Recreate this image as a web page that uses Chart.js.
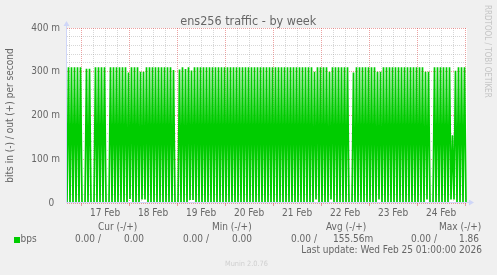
<!DOCTYPE html>
<html>
<head>
<meta charset="utf-8">
<title>ens256 traffic - by week</title>
<script src="https://cdn.jsdelivr.net/npm/chart.js@4.4.1/dist/chart.umd.min.js"></script>
<style>
  html, body { margin: 0; padding: 0; background: #f0f0f0; }
  #wrap { position: relative; width: 497px; height: 275px; overflow: hidden; }
  #myChart { position: absolute; left: 0; top: 0; }
  .txt {
    position: absolute;
    white-space: pre;
    font-family: 'DejaVu Sans Condensed', 'DejaVu Sans', sans-serif;
    font-stretch: condensed;
    color: #666;
  }
  .swatch { position: absolute; left: 14px; top: 237px; width: 6px; height: 6px; background: #00cc00; }
</style>
</head>
<body>
<div id="wrap">
  <canvas id="myChart" width="497" height="275"></canvas>
</div>
<script>
// Out traffic (bits/s, in milli units) - every burst top, left to right
const outPeaks = [
  310, 310, 310, 310, 310, 0, 307, 307, 0, 310,
  310, 310, 310, 0, 310, 310, 310, 310, 310, 310,
  298, 310, 310, 310, 300, 300, 310, 310, 310, 310,
  310, 310, 310, 310, 310, 304, 0, 305, 310, 306,
  310, 303, 310, 310, 310, 310, 310, 310, 310, 310,
  310, 310, 310, 310, 310, 310, 310, 310, 310, 310,
  310, 310, 310, 310, 310, 310, 310, 310, 310, 310,
  310, 310, 310, 310, 310, 310, 310, 310, 310, 310,
  310, 310, 300, 310, 310, 310, 310, 300, 310, 310,
  310, 310, 310, 310, 0, 298, 310, 310, 310, 310,
  310, 310, 310, 300, 300, 310, 310, 310, 310, 310,
  310, 310, 310, 310, 310, 310, 310, 310, 310, 300,
  300, 0, 310, 310, 310, 310, 310, 310, 155, 302,
  310, 310, 310
];

// Low points between the bursts (one more than the tops)
const outTroughs = [
  0, 0, 0, 0, 0, 0, 0, 0, 0, 0,
  0, 0, 0, 0, 0, 0, 0, 0, 0, 0,
  0, 9, 0, 0, 0, 8, 8, 0, 0, 0,
  0, 0, 0, 0, 0, 0, 0, 0, 0, 0,
  0, 7, 7, 0, 0, 0, 0, 0, 0, 0,
  0, 0, 0, 0, 0, 0, 0, 0, 0, 0,
  0, 0, 0, 0, 0, 0, 0, 0, 0, 0,
  0, 0, 0, 0, 0, 0, 0, 0, 0, 0,
  0, 0, 0, 8, 0, 0, 0, 0, 8, 0,
  0, 0, 0, 0, 0, 0, 0, 0, 0, 0,
  0, 0, 0, 0, 8, 0, 0, 0, 0, 0,
  0, 0, 0, 0, 0, 0, 0, 0, 0, 0,
  8, 0, 0, 0, 0, 0, 0, 0, 8, 8,
  0, 0, 0, 0
];

const sampleHours = 0.75;      // aika näytteiden välillä
const rangeHours = 200;        // Feb 16 17:00 -> Feb 25 01:00
const dayLabels = ['17 Feb', '18 Feb', '19 Feb', '20 Feb', '21 Feb', '22 Feb', '23 Feb', '24 Feb'];
const yTickLabels = ['0  ', '100 m', '200 m', '300 m', '400 m'];

const legendHeaders = ['Cur (-/+)', 'Min (-/+)', 'Avg (-/+)', 'Max (-/+)'];
const bpsIn = ['0.00', '0.00', '0.00', '0.00'];
const bpsOut = ['0.00', '0.00', '155.56m', '1.86'];

const fontFamily = "'DejaVu Sans Condensed', 'DejaVu Sans', sans-serif";
const textColor = '#666666';
const gridGrey = 'rgba(140, 140, 140, 0.35)';
const gridRed = 'rgba(220, 70, 70, 0.5)';
const axisColor = '#cfd6f8';

// Zigzag: low, top, low, top ... low
const points = [];
outPeaks.forEach(function(peak, i) {
  points.push({ x: points.length * sampleHours, y: outTroughs[i] });
  points.push({ x: points.length * sampleHours, y: peak });
});
points.push({ x: points.length * sampleHours, y: outTroughs[outPeaks.length] });

// Pystyviivat 6 tunnin välein, keskiyö punaisella
const gridHours = [];
for (let h = 1; h < rangeHours; h += 6) gridHours.push(h);

function isMidnight(h) { return (h - 7) % 24 === 0; }
function isNoon(h) { return (h - 19) % 24 === 0; }

const plotBackground = {
  id: 'plotBackground',
  beforeDraw(chart) {
    const { ctx, chartArea: a } = chart;
    ctx.save();
    ctx.fillStyle = '#ffffff';
    ctx.fillRect(a.left, a.top, a.right - a.left, a.bottom - a.top);
    ctx.restore();
  }
};

// rrdtool style axes with arrow heads
const arrowAxes = {
  id: 'arrowAxes',
  afterDatasetsDraw(chart) {
    const { ctx, chartArea: a } = chart;
    const x0 = a.left - 0.5;
    const y0 = a.bottom - 0.5;
    ctx.save();
    ctx.strokeStyle = axisColor;
    ctx.fillStyle = axisColor;
    ctx.lineWidth = 1;
    ctx.beginPath();
    ctx.moveTo(x0, y0);
    ctx.lineTo(a.right + 3, y0);
    ctx.moveTo(x0, y0);
    ctx.lineTo(x0, a.top - 3);
    ctx.stroke();
    ctx.beginPath();
    ctx.moveTo(a.right + 2, y0 - 3);
    ctx.lineTo(a.right + 7, y0);
    ctx.lineTo(a.right + 2, y0 + 3);
    ctx.closePath();
    ctx.fill();
    ctx.beginPath();
    ctx.moveTo(x0 - 3, a.top - 2);
    ctx.lineTo(x0, a.top - 7);
    ctx.lineTo(x0 + 3, a.top - 2);
    ctx.closePath();
    ctx.fill();
    ctx.restore();
  }
};

const myChart = new Chart(document.getElementById('myChart'), {
  type: 'line',
  data: {
    datasets: [{
      label: 'bps',
      data: points,
      borderColor: '#00cc00',
      borderWidth: 1.7,
      pointRadius: 0,
      tension: 0,
      fill: false
    }]
  },
  options: {
    responsive: false,
    animation: false,
    events: [],
    layout: { padding: { top: 28, right: 30, bottom: 0, left: 0 } },
    plugins: {
      legend: { display: false },
      tooltip: { enabled: false },
      title: { display: false }
    },
    scales: {
      x: {
        type: 'linear',
        min: 0,
        max: rangeHours,
        afterBuildTicks: function(axis) {
          axis.ticks = gridHours.map(h => ({ value: h }));
        },
        afterFit: function(axis) { axis.height = 72; },
        ticks: {
          autoSkip: false,
          maxRotation: 0,
          padding: 1.5,
          color: textColor,
          font: { family: fontFamily, size: 10 },
          callback: function(v) {
            return isNoon(v) ? dayLabels[(v - 19) / 24] : '';
          }
        },
        grid: {
          color: ctx => (ctx.tick && isMidnight(ctx.tick.value)) ? gridRed : gridGrey,
          tickColor: ctx => (ctx.tick && isMidnight(ctx.tick.value)) ? gridRed : 'rgba(0,0,0,0)',
          tickLength: 3
        },
        border: { display: false, dash: [1, 1] }
      },
      y: {
        min: 0,
        max: 400,
        afterFit: function(axis) { axis.width = 67; },
        ticks: {
          stepSize: 20,
          autoSkip: false,
          padding: 7,
          color: textColor,
          font: { family: fontFamily, size: 10 },
          callback: function(v) {
            return v % 100 === 0 ? yTickLabels[v / 100] : '';
          }
        },
        grid: {
          color: ctx => (ctx.tick && ctx.tick.value % 100 === 0) ? gridRed : gridGrey,
          drawTicks: false
        },
        border: { display: false, dash: [1, 1] },
        title: {
          display: true,
          text: 'bits in (-) / out (+) per second',
          color: textColor,
          font: { family: fontFamily, size: 10 },
          padding: { top: 4, bottom: 0 }
        }
      }
    }
  },
  plugins: [plotBackground, arrowAxes]
});

// Tekstit kaavion ympärillä
const wrap = document.getElementById('wrap');

function addText(text, x, baseline, size, color, align) {
  const el = document.createElement('div');
  el.className = 'txt';
  el.textContent = text;
  el.style.fontSize = size + 'px';
  el.style.lineHeight = size + 'px';
  el.style.top = (baseline - size * 0.846) + 'px';
  if (align === 'center') {
    el.style.left = (x - 200) + 'px';
    el.style.width = '400px';
    el.style.textAlign = 'center';
  } else if (align === 'right') {
    el.style.right = (497 - x) + 'px';
  } else {
    el.style.left = x + 'px';
  }
  if (color) el.style.color = color;
  wrap.appendChild(el);
  return el;
}

addText('ens256 traffic - by week', 248.3, 26, 12.5, textColor, 'center');

const headerX = [98, 212, 326, 439];
const inX = [75, 183, 291, 411];
const outX = [124, 232, 333, 459];
legendHeaders.forEach((h, i) => addText(h, headerX[i], 230.5, 10, textColor));

const swatch = document.createElement('div');
swatch.className = 'swatch';
wrap.appendChild(swatch);
addText('bps', 20.5, 242, 10, textColor);
bpsIn.forEach((v, i) => addText(v + ' /', inX[i], 242, 10, textColor));
bpsOut.forEach((v, i) => addText(v, outX[i], 242, 10, textColor));

addText('Last update: Wed Feb 25 01:00:00 2026', 482, 253.3, 10, textColor, 'right');
addText('Munin 2.0.76', 225, 266, 7.3, '#cfcfcf');

const mark = addText('RRDTOOL / TOBI OETIKER', 490.5, 8 * 0.846 + 5, 8, '#c4c4c4');
mark.style.transformOrigin = '0 0';
mark.style.transform = 'rotate(90deg)';
</script>
</body>
</html>
